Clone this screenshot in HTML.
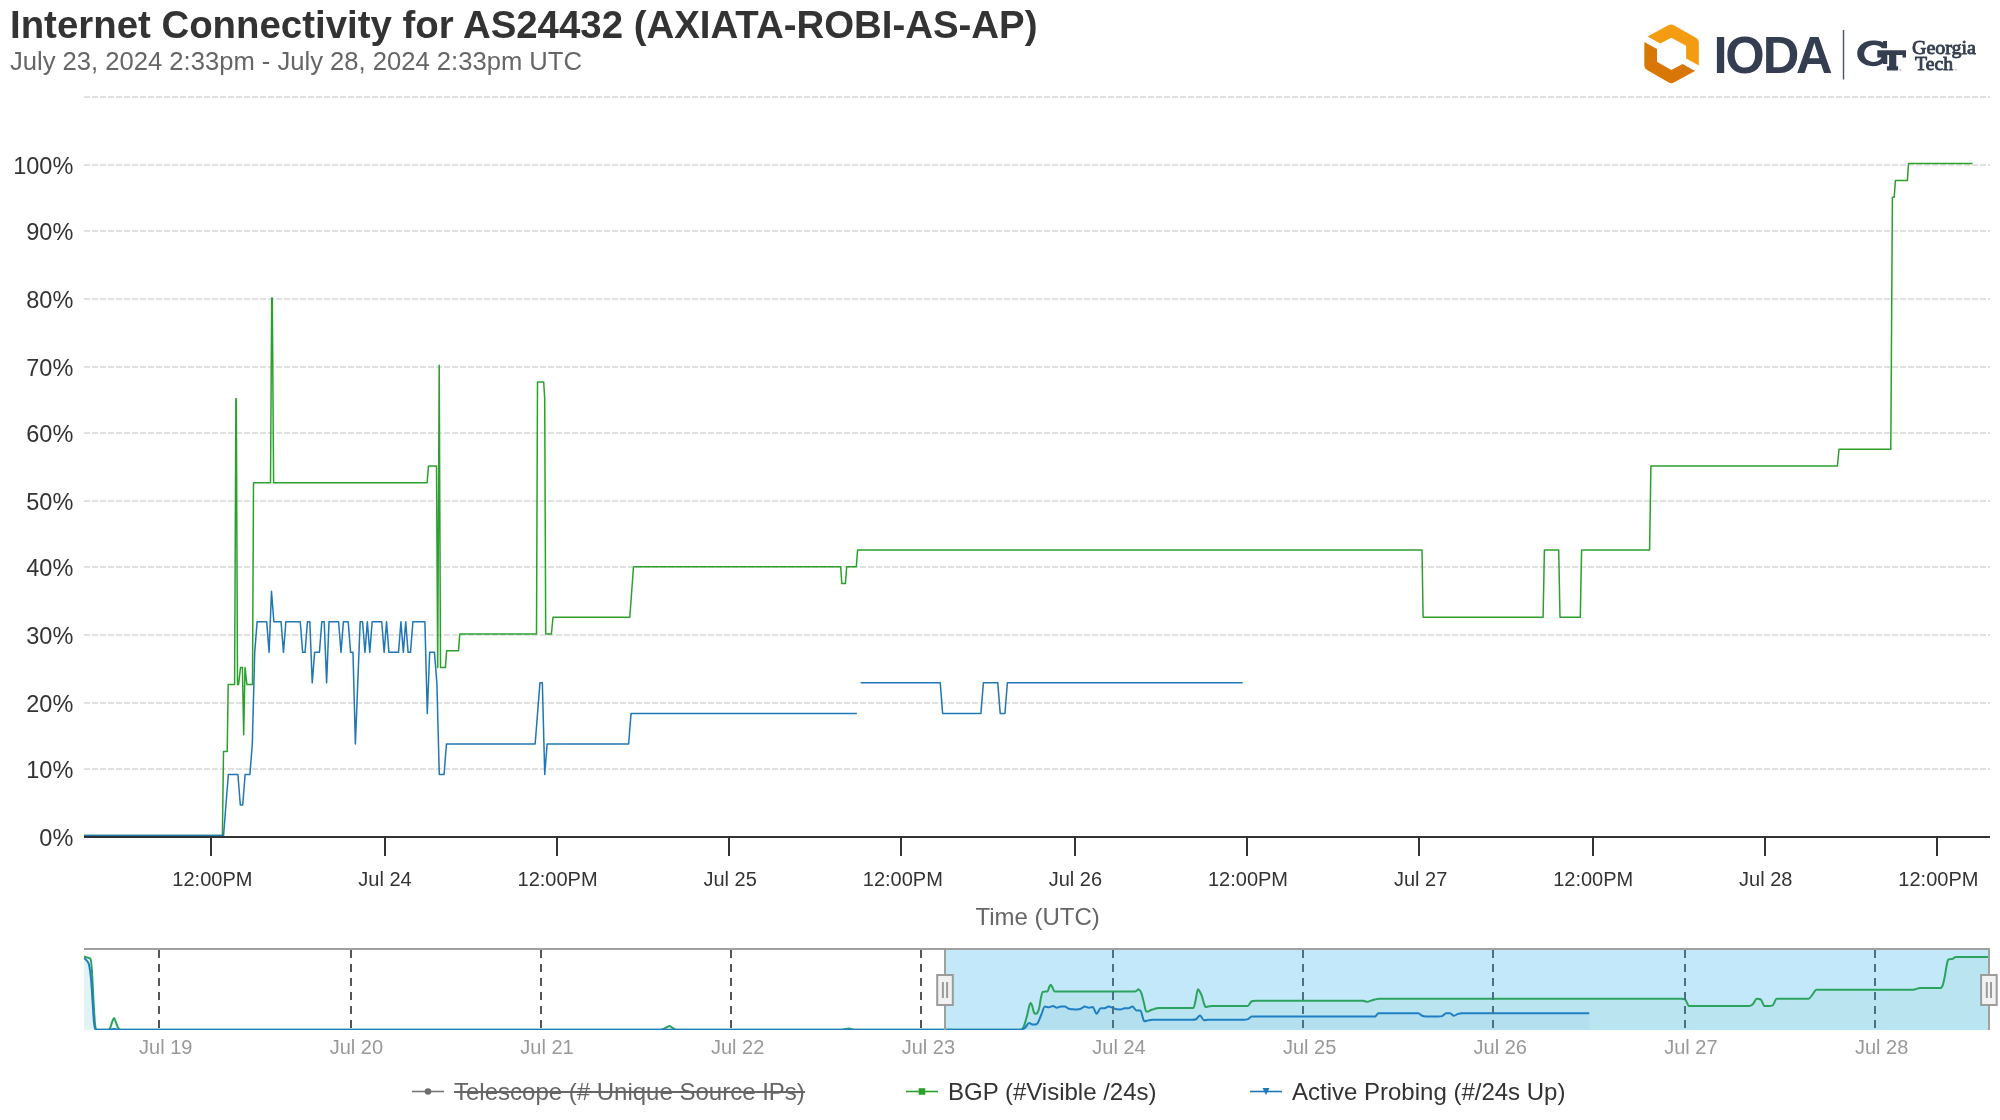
<!DOCTYPE html>
<html><head><meta charset="utf-8"><title>IODA</title>
<style>html,body{margin:0;padding:0;background:#fff;width:2000px;height:1120px;overflow:hidden}</style></head>
<body>
<svg width="2000" height="1120" viewBox="0 0 2000 1120" style="position:absolute;left:0;top:0;will-change:transform;font-family:'Liberation Sans',sans-serif">
<rect width="2000" height="1120" fill="#fff"/>
<line x1="84" x2="1990" y1="769" y2="769" stroke="#e0e0e0" stroke-width="2" stroke-dasharray="6 2"/>
<line x1="84" x2="1990" y1="703" y2="703" stroke="#e0e0e0" stroke-width="2" stroke-dasharray="6 2"/>
<line x1="84" x2="1990" y1="635" y2="635" stroke="#e0e0e0" stroke-width="2" stroke-dasharray="6 2"/>
<line x1="84" x2="1990" y1="567" y2="567" stroke="#e0e0e0" stroke-width="2" stroke-dasharray="6 2"/>
<line x1="84" x2="1990" y1="501" y2="501" stroke="#e0e0e0" stroke-width="2" stroke-dasharray="6 2"/>
<line x1="84" x2="1990" y1="433" y2="433" stroke="#e0e0e0" stroke-width="2" stroke-dasharray="6 2"/>
<line x1="84" x2="1990" y1="367" y2="367" stroke="#e0e0e0" stroke-width="2" stroke-dasharray="6 2"/>
<line x1="84" x2="1990" y1="299" y2="299" stroke="#e0e0e0" stroke-width="2" stroke-dasharray="6 2"/>
<line x1="84" x2="1990" y1="231" y2="231" stroke="#e0e0e0" stroke-width="2" stroke-dasharray="6 2"/>
<line x1="84" x2="1990" y1="165" y2="165" stroke="#e0e0e0" stroke-width="2" stroke-dasharray="6 2"/>
<line x1="84" x2="1990" y1="97" y2="97" stroke="#e0e0e0" stroke-width="2" stroke-dasharray="6 2"/>
<text x="73.3" y="846.0" text-anchor="end" font-size="23.5" fill="#333">0%</text>
<text x="73.3" y="778.0" text-anchor="end" font-size="23.5" fill="#333">10%</text>
<text x="73.3" y="712.0" text-anchor="end" font-size="23.5" fill="#333">20%</text>
<text x="73.3" y="644.0" text-anchor="end" font-size="23.5" fill="#333">30%</text>
<text x="73.3" y="576.0" text-anchor="end" font-size="23.5" fill="#333">40%</text>
<text x="73.3" y="510.0" text-anchor="end" font-size="23.5" fill="#333">50%</text>
<text x="73.3" y="442.0" text-anchor="end" font-size="23.5" fill="#333">60%</text>
<text x="73.3" y="376.0" text-anchor="end" font-size="23.5" fill="#333">70%</text>
<text x="73.3" y="308.0" text-anchor="end" font-size="23.5" fill="#333">80%</text>
<text x="73.3" y="240.0" text-anchor="end" font-size="23.5" fill="#333">90%</text>
<text x="73.3" y="174.0" text-anchor="end" font-size="23.5" fill="#333">100%</text>
<clipPath id="pc"><rect x="84" y="90" width="1906" height="748"/></clipPath>
<g fill="none" stroke-width="1.5" stroke-linejoin="round" stroke-linecap="butt" clip-path="url(#pc)">
<path d="M84.00 835.60 L222.40 835.60 L223.50 751.60 L227.20 751.60 L228.20 684.40 L234.60 684.40 L235.90 398.80 L236.30 398.80 L237.50 684.40 L238.60 684.40 L240.50 667.60 L242.40 667.60 L243.70 734.80 L245.00 667.60 L246.90 684.40 L252.50 684.40 L253.50 482.80 L270.50 482.80 L271.70 298.00 L272.30 298.00 L273.60 482.80 L427.10 482.80 L428.50 466.00 L436.50 466.00 L437.70 667.60 L439.20 365.20 L440.50 667.60 L445.40 667.60 L446.60 650.80 L458.50 650.80 L459.75 634.00 L536.50 634.00 L537.50 382.00 L543.70 382.00 L544.70 398.80 L545.70 634.00 L551.40 634.00 L553.00 617.20 L629.80 617.20 L633.50 566.80 L840.70 566.80 L841.80 583.60 L845.40 583.60 L846.70 566.80 L856.30 566.80 L857.60 550.00 L1422.00 550.00 L1423.10 617.20 L1543.10 617.20 L1544.40 550.00 L1558.70 550.00 L1560.00 617.20 L1580.30 617.20 L1581.60 550.00 L1649.60 550.00 L1650.90 466.00 L1837.40 466.00 L1839.00 449.20 L1890.80 449.20 L1892.40 197.20 L1894.20 197.20 L1895.40 180.40 L1907.40 180.40 L1908.50 163.60 L1972.50 163.60" stroke="#2ca02c"/>
<path d="M84.00 835.60 L84.52 835.60 L86.91 835.60 L89.31 835.60 L91.71 835.60 L94.10 835.60 L96.50 835.60 L98.90 835.60 L101.30 835.60 L103.69 835.60 L106.09 835.60 L108.49 835.60 L110.88 835.60 L113.28 835.60 L115.68 835.60 L118.07 835.60 L120.47 835.60 L122.87 835.60 L125.27 835.60 L127.66 835.60 L130.06 835.60 L132.46 835.60 L134.85 835.60 L137.25 835.60 L139.65 835.60 L142.04 835.60 L144.44 835.60 L146.84 835.60 L149.24 835.60 L151.63 835.60 L154.03 835.60 L156.43 835.60 L158.82 835.60 L161.22 835.60 L163.62 835.60 L166.01 835.60 L168.41 835.60 L170.81 835.60 L173.21 835.60 L175.60 835.60 L178.00 835.60 L180.40 835.60 L182.79 835.60 L185.19 835.60 L187.59 835.60 L189.98 835.60 L192.38 835.60 L194.78 835.60 L197.18 835.60 L199.57 835.60 L201.97 835.60 L204.37 835.60 L206.76 835.60 L209.16 835.60 L211.56 835.60 L213.95 835.60 L216.35 835.60 L218.75 835.60 L221.15 835.60 L223.54 835.60 L225.94 805.05 L228.34 774.51 L230.73 774.51 L233.13 774.51 L235.53 774.51 L237.92 774.51 L240.32 805.05 L242.72 805.05 L245.12 774.51 L247.51 774.51 L249.91 774.51 L252.31 743.96 L254.70 652.33 L257.10 621.78 L259.50 621.78 L261.89 621.78 L264.29 621.78 L266.69 621.78 L269.09 652.33 L271.48 591.24 L273.88 621.78 L276.28 621.78 L278.67 621.78 L281.07 621.78 L283.47 652.33 L285.86 621.78 L288.26 621.78 L290.66 621.78 L293.06 621.78 L295.45 621.78 L297.85 621.78 L300.25 621.78 L302.64 652.33 L305.04 652.33 L307.44 621.78 L309.83 621.78 L312.23 682.87 L314.63 652.33 L317.03 652.33 L319.42 652.33 L321.82 621.78 L324.22 621.78 L326.61 682.87 L329.01 621.78 L331.41 621.78 L333.80 621.78 L336.20 621.78 L338.60 621.78 L341.00 652.33 L343.39 621.78 L345.79 621.78 L348.19 621.78 L350.58 652.33 L352.98 652.33 L355.38 743.96 L357.77 682.87 L360.17 621.78 L362.57 621.78 L364.97 652.33 L367.36 621.78 L369.76 652.33 L372.16 621.78 L374.55 621.78 L376.95 621.78 L379.35 621.78 L381.74 621.78 L384.14 652.33 L386.54 621.78 L388.94 652.33 L391.33 652.33 L393.73 652.33 L396.13 652.33 L398.52 652.33 L400.92 621.78 L403.32 652.33 L405.71 621.78 L408.11 652.33 L410.51 652.33 L412.90 621.78 L415.30 621.78 L417.70 621.78 L420.10 621.78 L422.49 621.78 L424.89 621.78 L427.29 713.42 L429.68 652.33 L432.08 652.33 L434.48 652.33 L436.88 682.87 L439.27 774.51 L441.67 774.51 L444.07 774.51 L446.46 743.96 L448.86 743.96 L451.26 743.96 L453.65 743.96 L456.05 743.96 L458.45 743.96 L460.85 743.96 L463.24 743.96 L465.64 743.96 L468.04 743.96 L470.43 743.96 L472.83 743.96 L475.23 743.96 L477.62 743.96 L480.02 743.96 L482.42 743.96 L484.81 743.96 L487.21 743.96 L489.61 743.96 L492.01 743.96 L494.40 743.96 L496.80 743.96 L499.20 743.96 L501.59 743.96 L503.99 743.96 L506.39 743.96 L508.78 743.96 L511.18 743.96 L513.58 743.96 L515.98 743.96 L518.37 743.96 L520.77 743.96 L523.17 743.96 L525.56 743.96 L527.96 743.96 L530.36 743.96 L532.75 743.96 L535.15 743.96 L537.55 713.42 L539.95 682.87 L542.34 682.87 L544.74 774.51 L547.14 743.96 L549.53 743.96 L551.93 743.96 L554.33 743.96 L556.73 743.96 L559.12 743.96 L561.52 743.96 L563.92 743.96 L566.31 743.96 L568.71 743.96 L571.11 743.96 L573.50 743.96 L575.90 743.96 L578.30 743.96 L580.69 743.96 L583.09 743.96 L585.49 743.96 L587.89 743.96 L590.28 743.96 L592.68 743.96 L595.08 743.96 L597.47 743.96 L599.87 743.96 L602.27 743.96 L604.66 743.96 L607.06 743.96 L609.46 743.96 L611.86 743.96 L614.25 743.96 L616.65 743.96 L619.05 743.96 L621.44 743.96 L623.84 743.96 L626.24 743.96 L628.63 743.96 L631.03 713.42 L633.43 713.42 L635.83 713.42 L638.22 713.42 L640.62 713.42 L643.02 713.42 L645.41 713.42 L647.81 713.42 L650.21 713.42 L652.61 713.42 L655.00 713.42 L657.40 713.42 L659.80 713.42 L662.19 713.42 L664.59 713.42 L666.99 713.42 L669.38 713.42 L671.78 713.42 L674.18 713.42 L676.58 713.42 L678.97 713.42 L681.37 713.42 L683.77 713.42 L686.16 713.42 L688.56 713.42 L690.96 713.42 L693.35 713.42 L695.75 713.42 L698.15 713.42 L700.54 713.42 L702.94 713.42 L705.34 713.42 L707.74 713.42 L710.13 713.42 L712.53 713.42 L714.93 713.42 L717.32 713.42 L719.72 713.42 L722.12 713.42 L724.51 713.42 L726.91 713.42 L729.31 713.42 L731.71 713.42 L734.10 713.42 L736.50 713.42 L738.90 713.42 L741.29 713.42 L743.69 713.42 L746.09 713.42 L748.48 713.42 L750.88 713.42 L753.28 713.42 L755.68 713.42 L758.07 713.42 L760.47 713.42 L762.87 713.42 L765.26 713.42 L767.66 713.42 L770.06 713.42 L772.45 713.42 L774.85 713.42 L777.25 713.42 L779.65 713.42 L782.04 713.42 L784.44 713.42 L786.84 713.42 L789.23 713.42 L791.63 713.42 L794.03 713.42 L796.42 713.42 L798.82 713.42 L801.22 713.42 L803.62 713.42 L806.01 713.42 L808.41 713.42 L810.81 713.42 L813.20 713.42 L815.60 713.42 L818.00 713.42 L820.39 713.42 L822.79 713.42 L825.19 713.42 L827.59 713.42 L829.98 713.42 L832.38 713.42 L834.78 713.42 L837.17 713.42 L839.57 713.42 L841.97 713.42 L844.37 713.42 L846.76 713.42 L849.16 713.42 L851.56 713.42 L853.95 713.42 L856.35 713.42 L856.80 713.42" stroke="#1f77b4"/>
<path d="M860.60 682.87 L940.25 682.87 L942.60 713.42 L980.90 713.42 L983.40 682.87 L997.80 682.87 L1000.20 713.42 L1004.90 713.42 L1007.40 682.87 L1242.75 682.87" stroke="#1f77b4"/>
</g>
<rect x="84" y="836" width="1906" height="2" fill="#333"/>
<rect x="210" y="837" width="2" height="19" fill="#333"/>
<text x="212.4" y="886" text-anchor="middle" font-size="20" fill="#333">12:00PM</text>
<rect x="384" y="837" width="2" height="19" fill="#333"/>
<text x="385.0" y="886" text-anchor="middle" font-size="20" fill="#333">Jul 24</text>
<rect x="556" y="837" width="2" height="19" fill="#333"/>
<text x="557.6" y="886" text-anchor="middle" font-size="20" fill="#333">12:00PM</text>
<rect x="728" y="837" width="2" height="19" fill="#333"/>
<text x="730.2" y="886" text-anchor="middle" font-size="20" fill="#333">Jul 25</text>
<rect x="900" y="837" width="2" height="19" fill="#333"/>
<text x="902.8" y="886" text-anchor="middle" font-size="20" fill="#333">12:00PM</text>
<rect x="1074" y="837" width="2" height="19" fill="#333"/>
<text x="1075.4" y="886" text-anchor="middle" font-size="20" fill="#333">Jul 26</text>
<rect x="1246" y="837" width="2" height="19" fill="#333"/>
<text x="1248.0" y="886" text-anchor="middle" font-size="20" fill="#333">12:00PM</text>
<rect x="1418" y="837" width="2" height="19" fill="#333"/>
<text x="1420.6" y="886" text-anchor="middle" font-size="20" fill="#333">Jul 27</text>
<rect x="1592" y="837" width="2" height="19" fill="#333"/>
<text x="1593.2" y="886" text-anchor="middle" font-size="20" fill="#333">12:00PM</text>
<rect x="1764" y="837" width="2" height="19" fill="#333"/>
<text x="1765.8" y="886" text-anchor="middle" font-size="20" fill="#333">Jul 28</text>
<rect x="1936" y="837" width="2" height="19" fill="#333"/>
<text x="1938.4" y="886" text-anchor="middle" font-size="20" fill="#333">12:00PM</text>
<text x="1037.6" y="924.8" text-anchor="middle" font-size="24" fill="#666">Time (UTC)</text>
<text x="10" y="37.5" font-size="38.4" font-weight="bold" fill="#333">Internet Connectivity for AS24432 (AXIATA-ROBI-AS-AP)</text>
<text x="10" y="70" font-size="25.6" fill="#666">July 23, 2024 2:33pm - July 28, 2024 2:33pm UTC</text>
<clipPath id="nc"><rect x="84" y="948" width="1905.5" height="82"/></clipPath>
<rect x="945" y="950" width="1044.5" height="80" fill="#c3e8f9"/>
<g clip-path="url(#nc)">
<path d="M84.00 956.52 C85.00 956.83 86.00 957.13 87.00 957.46 C88.17 957.85 89.33 957.46 90.50 958.70 C91.00 959.23 91.50 964.63 92.00 971.62 C92.50 978.61 93.00 991.95 93.50 1000.66 C94.00 1009.37 94.50 1019.05 95.00 1023.89 C95.50 1028.73 96.00 1029.70 96.50 1029.70 L108.00 1029.70 C108.67 1029.70 109.33 1029.46 110.00 1028.25 C110.67 1027.04 111.33 1024.13 112.00 1022.44 C112.67 1020.75 113.33 1018.08 114.00 1018.08 C114.67 1018.08 115.33 1020.87 116.00 1022.44 C116.67 1024.01 117.33 1026.45 118.00 1027.52 C118.83 1028.87 119.67 1029.70 120.50 1029.70 L660.00 1029.70 C661.33 1029.70 662.67 1029.46 664.00 1028.97 C665.00 1028.61 666.00 1027.69 667.00 1027.16 C667.83 1026.72 668.67 1026.07 669.50 1026.07 C670.33 1026.07 671.17 1027.03 672.00 1027.52 C673.00 1028.12 674.00 1028.97 675.00 1029.34 C676.00 1029.70 677.00 1029.70 678.00 1029.70 L842.00 1029.70 C843.33 1029.70 844.67 1029.24 846.00 1028.97 C846.83 1028.81 847.67 1028.39 848.50 1028.39 C849.33 1028.39 850.17 1028.78 851.00 1028.97 C852.00 1029.21 853.00 1029.70 854.00 1029.70 L941.53 1029.70 L949.52 1029.70 L953.50 1029.70 L957.47 1029.70 L961.45 1029.70 L965.43 1029.70 L969.40 1029.70 L973.38 1029.70 L977.36 1029.70 L981.33 1029.70 L985.31 1029.70 L989.28 1029.70 L993.26 1029.70 L997.24 1029.70 L1001.21 1029.70 L1005.19 1029.70 L1009.17 1029.70 L1013.14 1029.70 L1017.12 1029.70 L1021.00 1029.70 C1022.00 1029.70 1023.00 1028.15 1024.00 1025.85 C1025.00 1023.55 1026.00 1019.68 1027.00 1015.91 C1027.75 1013.07 1028.50 1008.62 1029.25 1006.03 C1029.75 1004.31 1030.25 1002.98 1030.75 1002.98 C1031.25 1002.98 1031.75 1004.58 1032.25 1006.03 C1032.90 1007.92 1033.55 1011.91 1034.20 1013.00 C1034.63 1013.73 1035.07 1013.73 1035.50 1013.73 C1036.17 1013.73 1036.83 1013.72 1037.50 1012.64 C1038.10 1011.66 1038.70 1010.13 1039.30 1007.56 C1039.80 1005.41 1040.30 1000.74 1040.80 998.48 C1041.45 995.54 1042.10 992.26 1042.75 991.95 C1043.50 991.59 1044.25 991.68 1045.00 991.59 C1045.90 991.47 1046.80 991.59 1047.70 991.29 C1048.20 991.13 1048.70 988.11 1049.20 987.01 C1049.70 985.91 1050.20 984.69 1050.70 984.69 C1051.30 984.69 1051.90 986.57 1052.50 987.59 C1053.25 988.87 1054.00 991.59 1054.75 991.59 L1060.86 991.59 L1064.84 991.59 L1068.82 991.59 L1072.79 991.59 L1076.77 991.59 L1080.75 991.59 L1084.72 991.59 L1088.70 991.59 L1092.68 991.59 L1096.65 991.59 L1100.63 991.59 L1104.61 991.59 L1108.58 991.59 L1112.56 991.59 L1116.53 991.59 L1120.51 991.59 L1124.49 991.59 L1128.46 991.59 L1132.44 991.59 L1135.00 991.59 C1135.67 991.59 1136.33 990.97 1137.00 990.50 C1137.43 990.19 1137.87 989.26 1138.30 989.26 C1138.87 989.26 1139.43 989.76 1140.00 990.50 C1140.50 991.14 1141.00 991.84 1141.50 993.40 C1142.33 996.00 1143.17 999.80 1144.00 1002.98 C1144.75 1005.85 1145.50 1011.55 1146.25 1011.55 L1148.00 1011.55 C1148.67 1011.55 1149.33 1010.75 1150.00 1010.46 C1151.00 1010.03 1152.00 1009.71 1153.00 1009.37 C1154.25 1008.96 1155.50 1008.51 1156.75 1008.21 C1157.50 1008.03 1158.25 1007.92 1159.00 1007.92 L1160.28 1007.92 L1164.25 1007.92 L1168.23 1007.92 L1172.21 1007.92 L1176.18 1007.92 L1180.16 1007.92 L1184.14 1007.92 L1188.11 1007.92 L1193.50 1007.92 C1194.17 1007.92 1194.83 1003.42 1195.50 1000.66 C1196.33 997.20 1197.17 989.26 1198.00 989.26 C1198.67 989.26 1199.33 990.83 1200.00 991.95 C1200.58 992.93 1201.17 993.88 1201.75 995.58 C1202.50 997.76 1203.25 1001.44 1204.00 1003.56 C1204.60 1005.26 1205.20 1007.05 1205.80 1007.05 C1206.53 1007.05 1207.27 1006.58 1208.00 1006.47 C1209.32 1006.27 1210.65 1006.11 1211.97 1006.11 L1215.95 1006.11 L1219.93 1006.11 L1223.90 1006.11 L1227.88 1006.11 L1231.85 1006.11 L1235.83 1006.11 L1239.81 1006.11 L1243.78 1006.11 C1245.11 1006.11 1246.44 1006.11 1247.76 1005.90 C1249.09 1005.70 1250.41 1001.74 1251.74 1001.20 C1253.06 1000.66 1254.39 1000.66 1255.71 1000.66 L1259.69 1000.66 L1263.67 1000.66 L1267.64 1000.66 L1271.62 1000.66 L1275.60 1000.66 L1279.57 1000.66 L1283.55 1000.66 L1287.53 1000.66 L1291.50 1000.66 L1295.48 1000.66 L1299.46 1000.66 L1303.43 1000.66 L1307.41 1000.66 L1311.39 1000.66 L1315.36 1000.66 L1319.34 1000.66 L1323.32 1000.66 L1327.29 1000.66 L1331.27 1000.66 L1335.25 1000.66 L1339.22 1000.66 L1343.20 1000.66 L1347.18 1000.66 L1351.15 1000.66 L1355.13 1000.66 L1359.10 1000.66 L1363.08 1000.66 C1364.41 1000.66 1365.73 1001.87 1367.06 1001.87 C1368.38 1001.87 1369.71 1001.06 1371.03 1000.66 C1372.36 1000.26 1373.69 999.79 1375.01 999.49 C1376.34 999.19 1377.66 998.85 1378.99 998.85 L1382.96 998.85 L1386.94 998.85 L1390.92 998.85 L1394.89 998.85 L1398.87 998.85 L1402.85 998.85 L1406.82 998.85 L1410.80 998.85 L1414.78 998.85 L1418.75 998.85 L1422.73 998.85 L1426.71 998.85 L1430.68 998.85 L1434.66 998.85 L1438.64 998.85 L1442.61 998.85 L1446.59 998.85 L1450.57 998.85 L1454.54 998.85 L1458.52 998.85 L1462.50 998.85 L1466.47 998.85 L1470.45 998.85 L1474.43 998.85 L1478.40 998.85 L1482.38 998.85 L1486.35 998.85 L1490.33 998.85 L1494.31 998.85 L1498.28 998.85 L1502.26 998.85 L1506.24 998.85 L1510.21 998.85 L1514.19 998.85 L1518.17 998.85 L1522.14 998.85 L1526.12 998.85 L1530.10 998.85 L1534.07 998.85 L1538.05 998.85 L1542.03 998.85 L1546.00 998.85 L1549.98 998.85 L1553.96 998.85 L1557.93 998.85 L1561.91 998.85 L1565.89 998.85 L1569.86 998.85 L1573.84 998.85 L1577.82 998.85 L1581.79 998.85 L1585.77 998.85 L1589.75 998.85 L1593.72 998.85 L1597.70 998.85 L1601.68 998.85 L1605.65 998.85 L1609.63 998.85 L1613.60 998.85 L1617.58 998.85 L1621.56 998.85 L1625.53 998.85 L1629.51 998.85 L1633.49 998.85 L1637.46 998.85 L1641.44 998.85 L1645.42 998.85 L1649.39 998.85 L1653.37 998.85 L1657.35 998.85 L1661.32 998.85 L1665.30 998.85 L1669.28 998.85 L1673.25 998.85 L1677.23 998.85 L1681.21 998.85 C1682.53 998.85 1683.86 998.85 1685.18 999.50 C1686.51 1000.15 1687.83 1006.11 1689.16 1006.11 L1693.14 1006.11 L1697.11 1006.11 L1701.09 1006.11 L1705.07 1006.11 L1709.04 1006.11 L1713.02 1006.11 L1717.00 1006.11 L1720.97 1006.11 L1724.95 1006.11 L1728.92 1006.11 L1732.90 1006.11 L1736.88 1006.11 L1740.85 1006.11 L1744.83 1006.11 L1748.81 1006.11 C1750.13 1006.11 1751.46 1005.44 1752.78 1004.23 C1754.11 1003.02 1755.44 998.85 1756.76 998.85 C1758.09 998.85 1759.41 998.85 1760.74 999.49 C1762.06 1000.14 1763.39 1006.11 1764.71 1006.11 L1768.69 1006.11 C1770.02 1006.11 1771.34 1006.11 1772.67 1005.46 C1773.99 1004.81 1775.32 998.85 1776.64 998.85 L1780.62 998.85 L1784.60 998.85 L1788.57 998.85 L1792.55 998.85 L1796.53 998.85 L1800.50 998.85 L1804.48 998.85 L1808.46 998.85 C1809.78 998.85 1811.11 996.12 1812.43 994.61 C1813.76 993.10 1815.08 989.77 1816.41 989.77 L1820.39 989.77 L1824.36 989.77 L1828.34 989.77 L1832.32 989.77 L1836.29 989.77 L1840.27 989.77 L1844.25 989.77 L1848.22 989.77 L1852.20 989.77 L1856.17 989.77 L1860.15 989.77 L1864.13 989.77 L1868.10 989.77 L1872.08 989.77 L1876.06 989.77 L1880.03 989.77 L1884.01 989.77 L1887.99 989.77 L1891.96 989.77 L1895.94 989.77 L1899.92 989.77 L1903.89 989.77 L1907.87 989.77 L1911.85 989.77 C1913.17 989.77 1914.50 989.42 1915.82 989.12 C1917.15 988.81 1918.47 987.96 1919.80 987.96 L1923.78 987.96 L1927.75 987.96 L1931.73 987.96 L1935.71 987.96 L1938.00 987.96 C1938.87 987.96 1939.73 987.96 1940.60 987.88 C1940.90 987.86 1941.20 987.72 1941.50 987.30 C1941.97 986.65 1942.43 986.17 1942.90 984.69 C1943.47 982.88 1944.03 980.33 1944.60 977.43 C1945.20 974.35 1945.80 970.14 1946.40 966.76 C1946.70 965.06 1947.00 963.38 1947.30 962.18 C1947.60 960.98 1947.90 959.74 1948.20 959.57 C1948.97 959.13 1949.73 959.26 1950.50 959.13 C1951.23 959.01 1951.97 959.12 1952.70 958.84 C1953.23 958.64 1953.77 958.01 1954.30 957.68 C1954.80 957.38 1955.30 956.95 1955.80 956.95 L1958.00 956.95 L1989.60 956.95 C1990.19 956.95 1990.79 957.05 1991.38 957.10 L1991.38 1029.70 L84.00 1029.70 Z" fill="#5fc0a9" fill-opacity="0.1" stroke="none"/>
<path d="M84.00 958.12 C84.83 958.87 85.67 959.27 86.50 960.37 C87.33 961.47 88.17 961.29 89.00 964.72 C89.67 967.47 90.33 972.03 91.00 978.88 C91.50 984.01 92.00 993.40 92.50 1000.66 C93.00 1007.92 93.50 1017.60 94.00 1022.44 C94.50 1027.28 95.00 1029.70 95.50 1029.70 L110.00 1029.70 C111.33 1029.70 112.67 1028.97 114.00 1028.97 C115.33 1028.97 116.67 1029.70 118.00 1029.70 L941.53 1029.70 L949.52 1029.70 L953.50 1029.70 L957.47 1029.70 L961.45 1029.70 L965.43 1029.70 L969.40 1029.70 L973.38 1029.70 L977.36 1029.70 L981.33 1029.70 L985.31 1029.70 L989.28 1029.70 L993.26 1029.70 L997.24 1029.70 L1001.21 1029.70 L1005.19 1029.70 L1009.17 1029.70 L1013.14 1029.70 L1017.12 1029.70 L1021.10 1029.70 C1022.42 1029.70 1023.75 1028.90 1025.07 1027.80 C1026.40 1026.70 1027.72 1023.11 1029.05 1023.11 C1030.38 1023.11 1031.70 1024.60 1033.03 1024.60 C1034.35 1024.60 1035.68 1024.60 1037.00 1023.79 C1038.33 1022.98 1039.65 1018.41 1040.98 1015.54 C1042.31 1012.68 1043.63 1006.61 1044.96 1006.61 C1046.28 1006.61 1047.61 1007.26 1048.93 1007.26 C1050.26 1007.26 1051.58 1005.94 1052.91 1005.94 C1054.24 1005.94 1055.56 1007.69 1056.89 1007.69 C1058.21 1007.69 1059.54 1006.61 1060.86 1006.61 C1062.19 1006.60 1063.51 1006.60 1064.84 1006.60 C1066.16 1006.60 1067.49 1008.35 1068.82 1008.79 C1070.14 1009.23 1071.47 1009.13 1072.79 1009.24 C1074.12 1009.35 1075.44 1009.45 1076.77 1009.45 C1078.09 1009.45 1079.42 1009.26 1080.75 1008.79 C1082.07 1008.32 1083.40 1006.60 1084.72 1006.60 C1086.05 1006.60 1087.37 1007.69 1088.70 1007.69 C1090.02 1007.69 1091.35 1007.07 1092.68 1007.07 C1094.00 1007.07 1095.33 1013.66 1096.65 1013.66 C1097.98 1013.66 1099.30 1008.35 1100.63 1008.34 C1101.95 1008.32 1103.28 1008.34 1104.61 1008.32 C1105.93 1008.31 1107.26 1006.60 1108.58 1006.60 C1109.91 1006.60 1111.23 1007.25 1112.56 1007.70 C1113.88 1008.15 1115.21 1009.17 1116.53 1009.29 C1117.86 1009.41 1119.19 1009.41 1120.51 1009.41 C1121.84 1009.41 1123.16 1008.19 1124.49 1008.19 C1125.81 1008.19 1127.14 1008.30 1128.46 1008.30 C1129.79 1008.30 1131.12 1006.60 1132.44 1006.60 C1133.77 1006.60 1135.09 1010.42 1136.42 1010.42 C1137.74 1010.42 1139.07 1010.41 1140.39 1010.41 C1141.72 1010.41 1143.05 1021.35 1144.37 1021.35 C1145.70 1021.35 1147.02 1020.64 1148.35 1020.38 C1149.67 1020.12 1151.00 1019.80 1152.32 1019.80 L1156.30 1019.80 L1160.28 1019.80 L1164.25 1019.80 L1168.23 1019.80 L1172.21 1019.80 L1176.18 1019.80 L1180.16 1019.80 L1184.14 1019.80 L1188.11 1019.80 L1192.09 1019.80 C1193.41 1019.80 1194.74 1019.80 1196.07 1019.23 C1197.39 1018.66 1198.72 1015.45 1200.04 1015.45 C1201.37 1015.45 1202.69 1020.32 1204.02 1020.32 C1205.34 1020.32 1206.67 1019.80 1208.00 1019.80 L1211.97 1019.80 L1215.95 1019.80 L1219.93 1019.80 L1223.90 1019.80 L1227.88 1019.80 L1231.85 1019.80 L1235.83 1019.80 L1239.81 1019.80 L1243.78 1019.80 C1245.11 1019.80 1246.44 1019.72 1247.76 1019.17 C1249.09 1018.62 1250.41 1016.50 1251.74 1016.50 L1255.71 1016.50 L1259.69 1016.50 L1263.67 1016.50 L1267.64 1016.50 L1271.62 1016.50 L1275.60 1016.50 L1279.57 1016.50 L1283.55 1016.50 L1287.53 1016.50 L1291.50 1016.50 L1295.48 1016.50 L1299.46 1016.50 L1303.43 1016.50 L1307.41 1016.50 L1311.39 1016.50 L1315.36 1016.50 L1319.34 1016.50 L1323.32 1016.50 L1327.29 1016.50 L1331.27 1016.50 L1335.25 1016.50 L1339.22 1016.50 L1343.20 1016.50 L1347.18 1016.50 L1351.15 1016.50 L1355.13 1016.50 L1359.10 1016.50 L1363.08 1016.50 L1367.06 1016.50 L1371.03 1016.50 L1375.01 1016.50 C1376.15 1016.50 1377.29 1013.20 1378.44 1013.20 L1382.41 1013.20 L1386.39 1013.20 L1390.37 1013.20 L1394.34 1013.20 L1398.32 1013.20 L1402.29 1013.20 L1406.27 1013.20 L1410.25 1013.20 L1414.22 1013.20 L1418.20 1013.20 C1419.53 1013.20 1420.85 1015.21 1422.18 1015.76 C1423.50 1016.31 1424.83 1016.50 1426.15 1016.50 L1430.13 1016.50 L1434.11 1016.50 L1438.08 1016.50 C1439.41 1016.50 1440.73 1016.50 1442.06 1016.10 C1443.39 1015.69 1444.71 1013.23 1446.04 1013.21 C1447.36 1013.20 1448.69 1013.20 1450.01 1013.20 C1451.34 1013.20 1452.66 1015.77 1453.99 1015.77 C1455.32 1015.77 1456.64 1014.34 1457.97 1013.91 C1459.29 1013.48 1460.62 1013.20 1461.94 1013.20 L1465.92 1013.20 L1469.90 1013.20 L1473.87 1013.20 L1477.85 1013.20 L1481.83 1013.20 L1485.80 1013.20 L1489.78 1013.20 L1493.76 1013.20 L1497.73 1013.20 L1501.71 1013.20 L1505.69 1013.20 L1509.66 1013.20 L1513.64 1013.20 L1517.61 1013.20 L1521.59 1013.20 L1525.57 1013.20 L1529.54 1013.20 L1533.52 1013.20 L1537.50 1013.20 L1541.47 1013.20 L1545.45 1013.20 L1549.43 1013.20 L1553.40 1013.20 L1557.38 1013.20 L1561.36 1013.20 L1565.33 1013.20 L1569.31 1013.20 L1573.29 1013.20 L1577.26 1013.20 L1581.24 1013.20 L1585.22 1013.20 L1589.19 1013.20 L1589.19 1029.70 L84.00 1029.70 Z" fill="#7dbcdd" fill-opacity="0.1" stroke="none"/>
<path d="M84.00 956.52 C85.00 956.83 86.00 957.13 87.00 957.46 C88.17 957.85 89.33 957.46 90.50 958.70 C91.00 959.23 91.50 964.63 92.00 971.62 C92.50 978.61 93.00 991.95 93.50 1000.66 C94.00 1009.37 94.50 1019.05 95.00 1023.89 C95.50 1028.73 96.00 1029.70 96.50 1029.70 L108.00 1029.70 C108.67 1029.70 109.33 1029.46 110.00 1028.25 C110.67 1027.04 111.33 1024.13 112.00 1022.44 C112.67 1020.75 113.33 1018.08 114.00 1018.08 C114.67 1018.08 115.33 1020.87 116.00 1022.44 C116.67 1024.01 117.33 1026.45 118.00 1027.52 C118.83 1028.87 119.67 1029.70 120.50 1029.70 L660.00 1029.70 C661.33 1029.70 662.67 1029.46 664.00 1028.97 C665.00 1028.61 666.00 1027.69 667.00 1027.16 C667.83 1026.72 668.67 1026.07 669.50 1026.07 C670.33 1026.07 671.17 1027.03 672.00 1027.52 C673.00 1028.12 674.00 1028.97 675.00 1029.34 C676.00 1029.70 677.00 1029.70 678.00 1029.70 L842.00 1029.70 C843.33 1029.70 844.67 1029.24 846.00 1028.97 C846.83 1028.81 847.67 1028.39 848.50 1028.39 C849.33 1028.39 850.17 1028.78 851.00 1028.97 C852.00 1029.21 853.00 1029.70 854.00 1029.70 L941.53 1029.70 L949.52 1029.70 L953.50 1029.70 L957.47 1029.70 L961.45 1029.70 L965.43 1029.70 L969.40 1029.70 L973.38 1029.70 L977.36 1029.70 L981.33 1029.70 L985.31 1029.70 L989.28 1029.70 L993.26 1029.70 L997.24 1029.70 L1001.21 1029.70 L1005.19 1029.70 L1009.17 1029.70 L1013.14 1029.70 L1017.12 1029.70 L1021.00 1029.70 C1022.00 1029.70 1023.00 1028.15 1024.00 1025.85 C1025.00 1023.55 1026.00 1019.68 1027.00 1015.91 C1027.75 1013.07 1028.50 1008.62 1029.25 1006.03 C1029.75 1004.31 1030.25 1002.98 1030.75 1002.98 C1031.25 1002.98 1031.75 1004.58 1032.25 1006.03 C1032.90 1007.92 1033.55 1011.91 1034.20 1013.00 C1034.63 1013.73 1035.07 1013.73 1035.50 1013.73 C1036.17 1013.73 1036.83 1013.72 1037.50 1012.64 C1038.10 1011.66 1038.70 1010.13 1039.30 1007.56 C1039.80 1005.41 1040.30 1000.74 1040.80 998.48 C1041.45 995.54 1042.10 992.26 1042.75 991.95 C1043.50 991.59 1044.25 991.68 1045.00 991.59 C1045.90 991.47 1046.80 991.59 1047.70 991.29 C1048.20 991.13 1048.70 988.11 1049.20 987.01 C1049.70 985.91 1050.20 984.69 1050.70 984.69 C1051.30 984.69 1051.90 986.57 1052.50 987.59 C1053.25 988.87 1054.00 991.59 1054.75 991.59 L1060.86 991.59 L1064.84 991.59 L1068.82 991.59 L1072.79 991.59 L1076.77 991.59 L1080.75 991.59 L1084.72 991.59 L1088.70 991.59 L1092.68 991.59 L1096.65 991.59 L1100.63 991.59 L1104.61 991.59 L1108.58 991.59 L1112.56 991.59 L1116.53 991.59 L1120.51 991.59 L1124.49 991.59 L1128.46 991.59 L1132.44 991.59 L1135.00 991.59 C1135.67 991.59 1136.33 990.97 1137.00 990.50 C1137.43 990.19 1137.87 989.26 1138.30 989.26 C1138.87 989.26 1139.43 989.76 1140.00 990.50 C1140.50 991.14 1141.00 991.84 1141.50 993.40 C1142.33 996.00 1143.17 999.80 1144.00 1002.98 C1144.75 1005.85 1145.50 1011.55 1146.25 1011.55 L1148.00 1011.55 C1148.67 1011.55 1149.33 1010.75 1150.00 1010.46 C1151.00 1010.03 1152.00 1009.71 1153.00 1009.37 C1154.25 1008.96 1155.50 1008.51 1156.75 1008.21 C1157.50 1008.03 1158.25 1007.92 1159.00 1007.92 L1160.28 1007.92 L1164.25 1007.92 L1168.23 1007.92 L1172.21 1007.92 L1176.18 1007.92 L1180.16 1007.92 L1184.14 1007.92 L1188.11 1007.92 L1193.50 1007.92 C1194.17 1007.92 1194.83 1003.42 1195.50 1000.66 C1196.33 997.20 1197.17 989.26 1198.00 989.26 C1198.67 989.26 1199.33 990.83 1200.00 991.95 C1200.58 992.93 1201.17 993.88 1201.75 995.58 C1202.50 997.76 1203.25 1001.44 1204.00 1003.56 C1204.60 1005.26 1205.20 1007.05 1205.80 1007.05 C1206.53 1007.05 1207.27 1006.58 1208.00 1006.47 C1209.32 1006.27 1210.65 1006.11 1211.97 1006.11 L1215.95 1006.11 L1219.93 1006.11 L1223.90 1006.11 L1227.88 1006.11 L1231.85 1006.11 L1235.83 1006.11 L1239.81 1006.11 L1243.78 1006.11 C1245.11 1006.11 1246.44 1006.11 1247.76 1005.90 C1249.09 1005.70 1250.41 1001.74 1251.74 1001.20 C1253.06 1000.66 1254.39 1000.66 1255.71 1000.66 L1259.69 1000.66 L1263.67 1000.66 L1267.64 1000.66 L1271.62 1000.66 L1275.60 1000.66 L1279.57 1000.66 L1283.55 1000.66 L1287.53 1000.66 L1291.50 1000.66 L1295.48 1000.66 L1299.46 1000.66 L1303.43 1000.66 L1307.41 1000.66 L1311.39 1000.66 L1315.36 1000.66 L1319.34 1000.66 L1323.32 1000.66 L1327.29 1000.66 L1331.27 1000.66 L1335.25 1000.66 L1339.22 1000.66 L1343.20 1000.66 L1347.18 1000.66 L1351.15 1000.66 L1355.13 1000.66 L1359.10 1000.66 L1363.08 1000.66 C1364.41 1000.66 1365.73 1001.87 1367.06 1001.87 C1368.38 1001.87 1369.71 1001.06 1371.03 1000.66 C1372.36 1000.26 1373.69 999.79 1375.01 999.49 C1376.34 999.19 1377.66 998.85 1378.99 998.85 L1382.96 998.85 L1386.94 998.85 L1390.92 998.85 L1394.89 998.85 L1398.87 998.85 L1402.85 998.85 L1406.82 998.85 L1410.80 998.85 L1414.78 998.85 L1418.75 998.85 L1422.73 998.85 L1426.71 998.85 L1430.68 998.85 L1434.66 998.85 L1438.64 998.85 L1442.61 998.85 L1446.59 998.85 L1450.57 998.85 L1454.54 998.85 L1458.52 998.85 L1462.50 998.85 L1466.47 998.85 L1470.45 998.85 L1474.43 998.85 L1478.40 998.85 L1482.38 998.85 L1486.35 998.85 L1490.33 998.85 L1494.31 998.85 L1498.28 998.85 L1502.26 998.85 L1506.24 998.85 L1510.21 998.85 L1514.19 998.85 L1518.17 998.85 L1522.14 998.85 L1526.12 998.85 L1530.10 998.85 L1534.07 998.85 L1538.05 998.85 L1542.03 998.85 L1546.00 998.85 L1549.98 998.85 L1553.96 998.85 L1557.93 998.85 L1561.91 998.85 L1565.89 998.85 L1569.86 998.85 L1573.84 998.85 L1577.82 998.85 L1581.79 998.85 L1585.77 998.85 L1589.75 998.85 L1593.72 998.85 L1597.70 998.85 L1601.68 998.85 L1605.65 998.85 L1609.63 998.85 L1613.60 998.85 L1617.58 998.85 L1621.56 998.85 L1625.53 998.85 L1629.51 998.85 L1633.49 998.85 L1637.46 998.85 L1641.44 998.85 L1645.42 998.85 L1649.39 998.85 L1653.37 998.85 L1657.35 998.85 L1661.32 998.85 L1665.30 998.85 L1669.28 998.85 L1673.25 998.85 L1677.23 998.85 L1681.21 998.85 C1682.53 998.85 1683.86 998.85 1685.18 999.50 C1686.51 1000.15 1687.83 1006.11 1689.16 1006.11 L1693.14 1006.11 L1697.11 1006.11 L1701.09 1006.11 L1705.07 1006.11 L1709.04 1006.11 L1713.02 1006.11 L1717.00 1006.11 L1720.97 1006.11 L1724.95 1006.11 L1728.92 1006.11 L1732.90 1006.11 L1736.88 1006.11 L1740.85 1006.11 L1744.83 1006.11 L1748.81 1006.11 C1750.13 1006.11 1751.46 1005.44 1752.78 1004.23 C1754.11 1003.02 1755.44 998.85 1756.76 998.85 C1758.09 998.85 1759.41 998.85 1760.74 999.49 C1762.06 1000.14 1763.39 1006.11 1764.71 1006.11 L1768.69 1006.11 C1770.02 1006.11 1771.34 1006.11 1772.67 1005.46 C1773.99 1004.81 1775.32 998.85 1776.64 998.85 L1780.62 998.85 L1784.60 998.85 L1788.57 998.85 L1792.55 998.85 L1796.53 998.85 L1800.50 998.85 L1804.48 998.85 L1808.46 998.85 C1809.78 998.85 1811.11 996.12 1812.43 994.61 C1813.76 993.10 1815.08 989.77 1816.41 989.77 L1820.39 989.77 L1824.36 989.77 L1828.34 989.77 L1832.32 989.77 L1836.29 989.77 L1840.27 989.77 L1844.25 989.77 L1848.22 989.77 L1852.20 989.77 L1856.17 989.77 L1860.15 989.77 L1864.13 989.77 L1868.10 989.77 L1872.08 989.77 L1876.06 989.77 L1880.03 989.77 L1884.01 989.77 L1887.99 989.77 L1891.96 989.77 L1895.94 989.77 L1899.92 989.77 L1903.89 989.77 L1907.87 989.77 L1911.85 989.77 C1913.17 989.77 1914.50 989.42 1915.82 989.12 C1917.15 988.81 1918.47 987.96 1919.80 987.96 L1923.78 987.96 L1927.75 987.96 L1931.73 987.96 L1935.71 987.96 L1938.00 987.96 C1938.87 987.96 1939.73 987.96 1940.60 987.88 C1940.90 987.86 1941.20 987.72 1941.50 987.30 C1941.97 986.65 1942.43 986.17 1942.90 984.69 C1943.47 982.88 1944.03 980.33 1944.60 977.43 C1945.20 974.35 1945.80 970.14 1946.40 966.76 C1946.70 965.06 1947.00 963.38 1947.30 962.18 C1947.60 960.98 1947.90 959.74 1948.20 959.57 C1948.97 959.13 1949.73 959.26 1950.50 959.13 C1951.23 959.01 1951.97 959.12 1952.70 958.84 C1953.23 958.64 1953.77 958.01 1954.30 957.68 C1954.80 957.38 1955.30 956.95 1955.80 956.95 L1958.00 956.95 L1989.60 956.95 C1990.19 956.95 1990.79 957.05 1991.38 957.10" fill="none" stroke="#2ca25f" stroke-width="2"/>
<path d="M84.00 958.12 C84.83 958.87 85.67 959.27 86.50 960.37 C87.33 961.47 88.17 961.29 89.00 964.72 C89.67 967.47 90.33 972.03 91.00 978.88 C91.50 984.01 92.00 993.40 92.50 1000.66 C93.00 1007.92 93.50 1017.60 94.00 1022.44 C94.50 1027.28 95.00 1029.70 95.50 1029.70 L110.00 1029.70 C111.33 1029.70 112.67 1028.97 114.00 1028.97 C115.33 1028.97 116.67 1029.70 118.00 1029.70 L941.53 1029.70 L949.52 1029.70 L953.50 1029.70 L957.47 1029.70 L961.45 1029.70 L965.43 1029.70 L969.40 1029.70 L973.38 1029.70 L977.36 1029.70 L981.33 1029.70 L985.31 1029.70 L989.28 1029.70 L993.26 1029.70 L997.24 1029.70 L1001.21 1029.70 L1005.19 1029.70 L1009.17 1029.70 L1013.14 1029.70 L1017.12 1029.70 L1021.10 1029.70 C1022.42 1029.70 1023.75 1028.90 1025.07 1027.80 C1026.40 1026.70 1027.72 1023.11 1029.05 1023.11 C1030.38 1023.11 1031.70 1024.60 1033.03 1024.60 C1034.35 1024.60 1035.68 1024.60 1037.00 1023.79 C1038.33 1022.98 1039.65 1018.41 1040.98 1015.54 C1042.31 1012.68 1043.63 1006.61 1044.96 1006.61 C1046.28 1006.61 1047.61 1007.26 1048.93 1007.26 C1050.26 1007.26 1051.58 1005.94 1052.91 1005.94 C1054.24 1005.94 1055.56 1007.69 1056.89 1007.69 C1058.21 1007.69 1059.54 1006.61 1060.86 1006.61 C1062.19 1006.60 1063.51 1006.60 1064.84 1006.60 C1066.16 1006.60 1067.49 1008.35 1068.82 1008.79 C1070.14 1009.23 1071.47 1009.13 1072.79 1009.24 C1074.12 1009.35 1075.44 1009.45 1076.77 1009.45 C1078.09 1009.45 1079.42 1009.26 1080.75 1008.79 C1082.07 1008.32 1083.40 1006.60 1084.72 1006.60 C1086.05 1006.60 1087.37 1007.69 1088.70 1007.69 C1090.02 1007.69 1091.35 1007.07 1092.68 1007.07 C1094.00 1007.07 1095.33 1013.66 1096.65 1013.66 C1097.98 1013.66 1099.30 1008.35 1100.63 1008.34 C1101.95 1008.32 1103.28 1008.34 1104.61 1008.32 C1105.93 1008.31 1107.26 1006.60 1108.58 1006.60 C1109.91 1006.60 1111.23 1007.25 1112.56 1007.70 C1113.88 1008.15 1115.21 1009.17 1116.53 1009.29 C1117.86 1009.41 1119.19 1009.41 1120.51 1009.41 C1121.84 1009.41 1123.16 1008.19 1124.49 1008.19 C1125.81 1008.19 1127.14 1008.30 1128.46 1008.30 C1129.79 1008.30 1131.12 1006.60 1132.44 1006.60 C1133.77 1006.60 1135.09 1010.42 1136.42 1010.42 C1137.74 1010.42 1139.07 1010.41 1140.39 1010.41 C1141.72 1010.41 1143.05 1021.35 1144.37 1021.35 C1145.70 1021.35 1147.02 1020.64 1148.35 1020.38 C1149.67 1020.12 1151.00 1019.80 1152.32 1019.80 L1156.30 1019.80 L1160.28 1019.80 L1164.25 1019.80 L1168.23 1019.80 L1172.21 1019.80 L1176.18 1019.80 L1180.16 1019.80 L1184.14 1019.80 L1188.11 1019.80 L1192.09 1019.80 C1193.41 1019.80 1194.74 1019.80 1196.07 1019.23 C1197.39 1018.66 1198.72 1015.45 1200.04 1015.45 C1201.37 1015.45 1202.69 1020.32 1204.02 1020.32 C1205.34 1020.32 1206.67 1019.80 1208.00 1019.80 L1211.97 1019.80 L1215.95 1019.80 L1219.93 1019.80 L1223.90 1019.80 L1227.88 1019.80 L1231.85 1019.80 L1235.83 1019.80 L1239.81 1019.80 L1243.78 1019.80 C1245.11 1019.80 1246.44 1019.72 1247.76 1019.17 C1249.09 1018.62 1250.41 1016.50 1251.74 1016.50 L1255.71 1016.50 L1259.69 1016.50 L1263.67 1016.50 L1267.64 1016.50 L1271.62 1016.50 L1275.60 1016.50 L1279.57 1016.50 L1283.55 1016.50 L1287.53 1016.50 L1291.50 1016.50 L1295.48 1016.50 L1299.46 1016.50 L1303.43 1016.50 L1307.41 1016.50 L1311.39 1016.50 L1315.36 1016.50 L1319.34 1016.50 L1323.32 1016.50 L1327.29 1016.50 L1331.27 1016.50 L1335.25 1016.50 L1339.22 1016.50 L1343.20 1016.50 L1347.18 1016.50 L1351.15 1016.50 L1355.13 1016.50 L1359.10 1016.50 L1363.08 1016.50 L1367.06 1016.50 L1371.03 1016.50 L1375.01 1016.50 C1376.15 1016.50 1377.29 1013.20 1378.44 1013.20 L1382.41 1013.20 L1386.39 1013.20 L1390.37 1013.20 L1394.34 1013.20 L1398.32 1013.20 L1402.29 1013.20 L1406.27 1013.20 L1410.25 1013.20 L1414.22 1013.20 L1418.20 1013.20 C1419.53 1013.20 1420.85 1015.21 1422.18 1015.76 C1423.50 1016.31 1424.83 1016.50 1426.15 1016.50 L1430.13 1016.50 L1434.11 1016.50 L1438.08 1016.50 C1439.41 1016.50 1440.73 1016.50 1442.06 1016.10 C1443.39 1015.69 1444.71 1013.23 1446.04 1013.21 C1447.36 1013.20 1448.69 1013.20 1450.01 1013.20 C1451.34 1013.20 1452.66 1015.77 1453.99 1015.77 C1455.32 1015.77 1456.64 1014.34 1457.97 1013.91 C1459.29 1013.48 1460.62 1013.20 1461.94 1013.20 L1465.92 1013.20 L1469.90 1013.20 L1473.87 1013.20 L1477.85 1013.20 L1481.83 1013.20 L1485.80 1013.20 L1489.78 1013.20 L1493.76 1013.20 L1497.73 1013.20 L1501.71 1013.20 L1505.69 1013.20 L1509.66 1013.20 L1513.64 1013.20 L1517.61 1013.20 L1521.59 1013.20 L1525.57 1013.20 L1529.54 1013.20 L1533.52 1013.20 L1537.50 1013.20 L1541.47 1013.20 L1545.45 1013.20 L1549.43 1013.20 L1553.40 1013.20 L1557.38 1013.20 L1561.36 1013.20 L1565.33 1013.20 L1569.31 1013.20 L1573.29 1013.20 L1577.26 1013.20 L1581.24 1013.20 L1585.22 1013.20 L1589.19 1013.20" fill="none" stroke="#1f7fc4" stroke-width="2"/>
</g>
<line x1="159" x2="159" y1="950" y2="1029" stroke="#555" stroke-width="2" stroke-dasharray="8 6"/>
<text x="165.75" y="1054" text-anchor="middle" font-size="20" fill="#999">Jul 19</text>
<line x1="351" x2="351" y1="950" y2="1029" stroke="#555" stroke-width="2" stroke-dasharray="8 6"/>
<text x="356.40" y="1054" text-anchor="middle" font-size="20" fill="#999">Jul 20</text>
<line x1="541" x2="541" y1="950" y2="1029" stroke="#555" stroke-width="2" stroke-dasharray="8 6"/>
<text x="547.05" y="1054" text-anchor="middle" font-size="20" fill="#999">Jul 21</text>
<line x1="731" x2="731" y1="950" y2="1029" stroke="#555" stroke-width="2" stroke-dasharray="8 6"/>
<text x="737.70" y="1054" text-anchor="middle" font-size="20" fill="#999">Jul 22</text>
<line x1="921" x2="921" y1="950" y2="1029" stroke="#555" stroke-width="2" stroke-dasharray="8 6"/>
<text x="928.35" y="1054" text-anchor="middle" font-size="20" fill="#999">Jul 23</text>
<line x1="1113" x2="1113" y1="950" y2="1029" stroke="#4a7085" stroke-width="2" stroke-dasharray="8 6"/>
<text x="1119.00" y="1054" text-anchor="middle" font-size="20" fill="#999">Jul 24</text>
<line x1="1303" x2="1303" y1="950" y2="1029" stroke="#4a7085" stroke-width="2" stroke-dasharray="8 6"/>
<text x="1309.65" y="1054" text-anchor="middle" font-size="20" fill="#999">Jul 25</text>
<line x1="1493" x2="1493" y1="950" y2="1029" stroke="#4a7085" stroke-width="2" stroke-dasharray="8 6"/>
<text x="1500.30" y="1054" text-anchor="middle" font-size="20" fill="#999">Jul 26</text>
<line x1="1685" x2="1685" y1="950" y2="1029" stroke="#4a7085" stroke-width="2" stroke-dasharray="8 6"/>
<text x="1690.95" y="1054" text-anchor="middle" font-size="20" fill="#999">Jul 27</text>
<line x1="1875" x2="1875" y1="950" y2="1029" stroke="#4a7085" stroke-width="2" stroke-dasharray="8 6"/>
<text x="1881.60" y="1054" text-anchor="middle" font-size="20" fill="#999">Jul 28</text>
<path d="M84 949 H1989 V1030 M945 949 V1030" fill="none" stroke="#a0a0a0" stroke-width="2"/>
<rect x="937.20" y="975" width="15.6" height="30" fill="#f2f2f2" stroke="#9b9b9b" stroke-width="2"/>
<path d="M942.9 982 V998 M947.1 982 V998" stroke="#9b9b9b" stroke-width="2" fill="none"/>
<rect x="1981.10" y="975" width="15.6" height="30" fill="#f2f2f2" stroke="#9b9b9b" stroke-width="2"/>
<path d="M1986.8 982 V998 M1991.0 982 V998" stroke="#9b9b9b" stroke-width="2" fill="none"/>
<g font-size="24">
<line x1="412" x2="444" y1="1091.5" y2="1091.5" stroke="#777" stroke-width="1.6"/><circle cx="428" cy="1091.5" r="3.3" fill="#6e6e6e"/>
<text x="454" y="1100" fill="#666">Telescope (# Unique Source IPs)</text><line x1="454" x2="805" y1="1092" y2="1092" stroke="#666" stroke-width="2"/>
<line x1="906" x2="938" y1="1091.5" y2="1091.5" stroke="#2ca02c" stroke-width="1.6"/><rect x="918.7" y="1088.2" width="6.6" height="6.6" fill="#2ca02c"/>
<text x="948" y="1100" fill="#333">BGP (#Visible /24s)</text>
<line x1="1250" x2="1282" y1="1091.5" y2="1091.5" stroke="#1f77b4" stroke-width="1.6"/><path d="M1262.5 1088 h7 l-3.5 7 z" fill="#1f77b4"/>
<text x="1292" y="1100" fill="#333">Active Probing (#/24s Up)</text>
</g>
<g>
<path d="M1647.6 36.4 L1668.8 25.1 Q1671.3 23.8 1673.8 25.2 L1696.4 38.1 Q1698.8 39.5 1698.8 42.3 V65.6 L1686.1 58.4 V45.8 L1671.3 37.8 L1660.3 43.6 Z" fill="#f39c12"/>
<path d="M1644.3 42.1 L1657 49.1 V61.7 L1671.3 70 L1682.6 63.9 L1695.1 71.1 L1673.8 82.6 Q1671.3 83.9 1668.8 82.5 L1646.7 69.8 Q1644.3 68.4 1644.3 65.6 Z" fill="#d97706"/>
<text transform="translate(1713.5,72.9) scale(0.975,1)" font-size="52" font-weight="bold" fill="#343e50">I</text>
<text transform="translate(1725.3,72.9) scale(0.975,1)" font-size="52" font-weight="bold" fill="#343e50">O</text>
<text transform="translate(1762.8,72.9) scale(0.975,1)" font-size="52" font-weight="bold" fill="#343e50">D</text>
<text transform="translate(1795.9,72.9) scale(0.975,1)" font-size="52" font-weight="bold" fill="#343e50">A</text>
<rect x="1842.8" y="30" width="1.4" height="49.5" fill="#4a5365"/>
<g fill="#343e50">
<path fill-rule="evenodd" d="M1873 40.6 C1880 40.6 1882 42 1883 42.5 V41 H1887 V48.3 H1882 C1880 46 1877 45 1874 45 C1868.5 45 1864.2 48.6 1864.2 53.8 C1864.2 58.6 1868.5 62 1873.5 62 C1877.5 62 1880.5 60 1881.5 57.6 H1877.3 V50.3 H1906 V57.6 H1902.5 V55 H1896.3 V66.3 H1898.1 V70.6 H1886.9 V66.3 H1889.1 V55 H1887.3 V64 H1883 V63 C1881 65 1877.5 66.2 1873 66.2 C1864 66.2 1857.2 61 1857.2 53.6 C1857.2 46 1864 40.6 1873 40.6 Z"/>
</g>
<text x="1912" y="53.7" font-family="'Liberation Serif',serif" font-size="19" fill="#343e50" stroke="#343e50" stroke-width="0.8" textLength="64" lengthAdjust="spacingAndGlyphs">Georgia</text>
<text x="1915" y="70.4" font-family="'Liberation Serif',serif" font-size="18.6" fill="#343e50" stroke="#343e50" stroke-width="0.8" textLength="38" lengthAdjust="spacingAndGlyphs">Tech</text>
<circle cx="1900.4" cy="69.9" r="0.7" fill="#8a909c"/><circle cx="1955.9" cy="69.9" r="0.7" fill="#8a909c"/>
</g>
</svg>
</body></html>
